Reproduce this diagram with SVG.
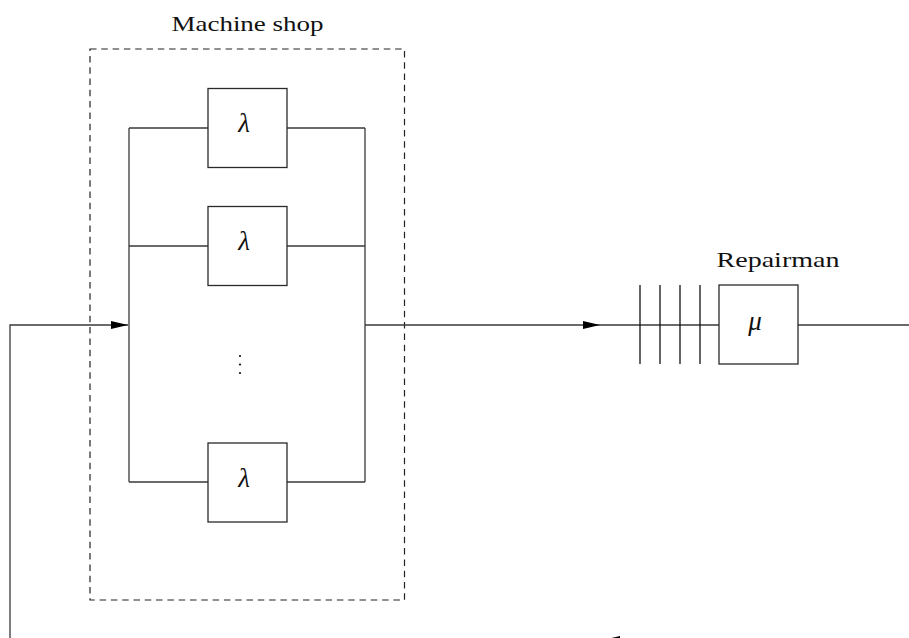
<svg xmlns="http://www.w3.org/2000/svg" width="909" height="638" viewBox="0 0 909 638">
<style>
.ln{fill:none;stroke:#3a3a3a;stroke-width:1.3}
.box{fill:#fff;stroke:#2a2a2a;stroke-width:1.3}
.dash{fill:none;stroke:#222;stroke-width:1.2;stroke-dasharray:6.5 4.8}
.lbl{font-family:"Liberation Serif","DejaVu Serif",serif;font-size:21px;fill:#111}
.sym{font-family:"Liberation Serif","DejaVu Serif",serif;font-size:27px;font-style:italic;fill:#111;text-anchor:middle}
.q{stroke:#111;stroke-width:1.3}
</style>
<defs>
<marker id="ah" markerWidth="17" markerHeight="8" refX="17" refY="4" orient="auto" markerUnits="userSpaceOnUse">
<path d="M0,0 L17,4 L0,8 Z" fill="#000"/>
</marker>
</defs>
<g id="machine-shop">
<rect class="dash" x="90" y="49" width="314.5" height="551"/>
<text class="lbl" x="247.5" y="31" text-anchor="middle" textLength="152" lengthAdjust="spacingAndGlyphs">Machine shop</text>
</g>
<g id="connectors">
<path class="ln" d="M10,640 L10,325 L128,325" marker-end="url(#ah)"/>
<path class="ln" d="M129,128 L129,482 M365,128 L365,482"/>
<path class="ln" d="M129,128 H208 M287,128 H365"/>
<path class="ln" d="M129,246 H208 M287,246 H365"/>
<path class="ln" d="M129,482 H208 M287,482 H365"/>
<path class="ln" d="M365,325 L600,325" marker-end="url(#ah)"/>
<path class="ln" d="M600,325 H719 M798,325 H909"/>
<path class="ln" d="M909,640 L603,640" marker-end="url(#ah)"/>
</g>
<g id="machine1">
<rect class="box" x="208" y="88.5" width="79" height="79"/>
<text class="sym" x="244" y="132">λ</text>
</g>
<g id="machine2">
<rect class="box" x="208" y="206.5" width="79" height="79"/>
<text class="sym" x="244" y="250">λ</text>
</g>
<g id="dots">
<circle cx="240" cy="356" r="1.1" fill="#111"/>
<circle cx="240" cy="364.5" r="1.1" fill="#111"/>
<circle cx="240" cy="373" r="1.1" fill="#111"/>
</g>
<g id="machineN">
<rect class="box" x="208" y="443" width="79" height="79"/>
<text class="sym" x="244" y="487">λ</text>
</g>
<g id="queue">
<line class="q" x1="640" y1="285" x2="640" y2="364"/>
<line class="q" x1="660" y1="285" x2="660" y2="364"/>
<line class="q" x1="680" y1="285" x2="680" y2="364"/>
<line class="q" x1="700" y1="285" x2="700" y2="364"/>
</g>
<g id="repairman">
<rect class="box" x="719" y="285" width="79" height="79"/>
<text class="sym" x="755" y="330">μ</text>
<text class="lbl" x="778" y="267" text-anchor="middle" textLength="123" lengthAdjust="spacingAndGlyphs">Repairman</text>
</g>
</svg>
